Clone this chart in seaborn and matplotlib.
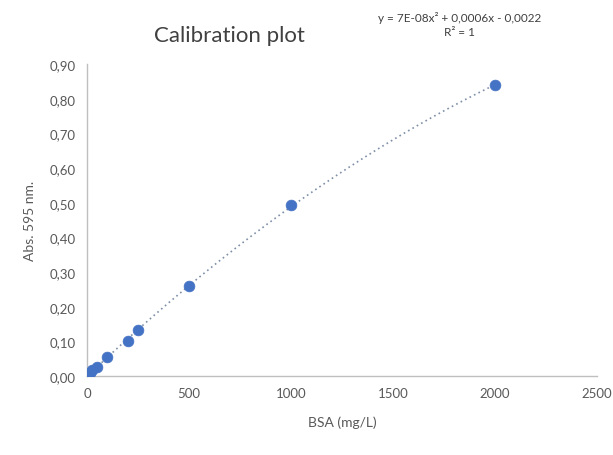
import numpy as np
import pandas as pd
import matplotlib
matplotlib.use("Agg")
import matplotlib.pyplot as plt
import seaborn as sns
from matplotlib.ticker import FuncFormatter

# BSA standards (mg/L) and measured absorbance at 595 nm
bsa = [0, 12.5, 25, 50, 100, 200, 250, 500, 1000, 2000]
absorbance = [0.0, 0.010, 0.018, 0.025, 0.055, 0.100, 0.133, 0.260, 0.493, 0.840]

x_ticks = [0, 500, 1000, 1500, 2000, 2500]
y_ticks = [0.0, 0.1, 0.2, 0.3, 0.4, 0.5, 0.6, 0.7, 0.8, 0.9]

df = pd.DataFrame({"bsa": bsa, "abs": absorbance})

sns.set_theme(style="white")
plt.rcParams["font.family"] = ["Lato", "DejaVu Sans"]

text_col = "#595959"
fig = plt.figure(figsize=(6.13, 4.56), dpi=100)
ax = fig.add_axes([0.142, 0.173, 0.832, 0.684])

# second-order polynomial trendline
coef = np.polyfit(df["bsa"], df["abs"], 2)
xs = np.linspace(0, max(bsa), 200)
ax.plot(xs, np.polyval(coef, xs), linestyle=(0, (1, 2)), color="#7f8fa6", lw=1.2, zorder=1)

sns.scatterplot(data=df, x="bsa", y="abs", ax=ax, color="#4472C4", s=60,
                edgecolor="#4472C4", linewidth=0.5, zorder=3)

ax.set_xlim(0, 2500)
ax.set_ylim(0, 0.9)
ax.set_xticks(x_ticks)
ax.set_yticks(y_ticks)
ax.yaxis.set_major_formatter(FuncFormatter(lambda v, p: f"{v:.2f}".replace(".", ",")))
ax.tick_params(axis="both", length=0, labelsize=9.5, colors=text_col, pad=8)

for side in ["top", "right"]:
    ax.spines[side].set_visible(False)
for side in ["left", "bottom"]:
    ax.spines[side].set_color("#bfbfbf")
    ax.spines[side].set_linewidth(1.0)

ax.set_xlabel("BSA (mg/L)", fontsize=10, color=text_col, labelpad=12)
ax.set_ylabel("Abs. 595 nm.", fontsize=10, color=text_col, labelpad=10)

fig.text(0.375, 0.922, "Calibration plot", fontsize=16, color="#404040",
         ha="center", va="center")
fig.text(0.75, 0.96, "y = 7E-08x\u00b2 + 0,0006x - 0,0022", fontsize=8.5,
         color="#404040", ha="center", va="center")
fig.text(0.75, 0.928, "R\u00b2 = 1", fontsize=8.5, color="#404040",
         ha="center", va="center")

fig.savefig("out.png", dpi=100, facecolor="white")
